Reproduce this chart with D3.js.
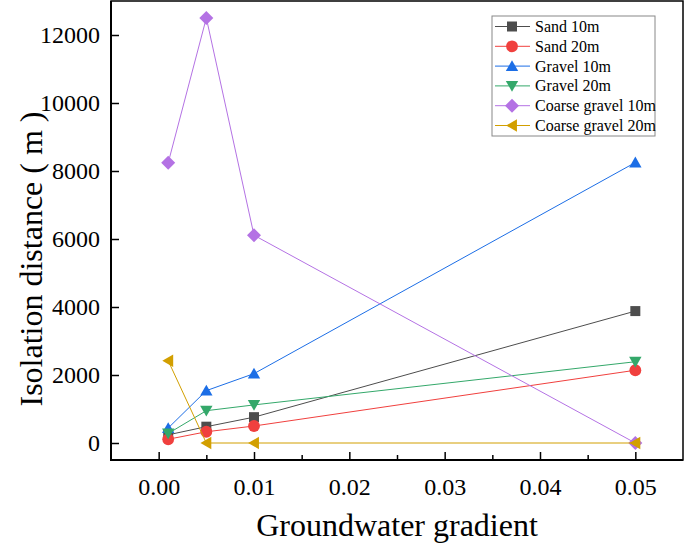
<!DOCTYPE html>
<html>
<head>
<meta charset="utf-8">
<script src="https://cdn.jsdelivr.net/npm/d3@7"></script>
<style>
  body { margin: 0; background: #fff; }
  svg { display: block; font-family: "Liberation Serif", "Times New Roman", serif; }
  .axis line { stroke: #000; stroke-width: 1.5; }
</style>
</head>
<body>
<div id="canvas"></div>
<script>
// data
var gradients = [0.001, 0.005, 0.01, 0.05];
var sand10 = [240, 480, 760, 3880];
var sand20 = [110, 330, 500, 2140];
var gravel10 = [440, 1540, 2040, 8250];
var gravel20 = [280, 950, 1120, 2390];
var coarse10 = [8240, 12500, 6110, 0];
var coarse20 = [2420, 0, 0, 0];

var seriesNames = ['Sand 10m', 'Sand 20m', 'Gravel 10m', 'Gravel 20m', 'Coarse gravel 10m', 'Coarse gravel 20m'];
var seriesColors = ['#4d4d4d', '#f0403e', '#1c6ee6', '#34a86a', '#b472e4', '#d29f00'];
var xTicks = [0, 0.01, 0.02, 0.03, 0.04, 0.05];
var xMinor = [0.005, 0.015, 0.025, 0.035, 0.045];
var yTicks = [0, 2000, 4000, 6000, 8000, 10000, 12000];

var serif = '"Liberation Serif", "Times New Roman", serif';
var W = 685, H = 546;
var m = {t:1, r:2, b:86, l:111};
var w = W - m.l - m.r,
    h = H - m.t - m.b;

// custom marker shapes
var triDown = { draw: function(ctx, s){ var r = Math.sqrt(s)*0.62;
  ctx.moveTo(-r, -r*0.8); ctx.lineTo(r, -r*0.8); ctx.lineTo(0, r*0.95); ctx.closePath(); } };
var triUp = { draw: function(ctx, s){ var r = Math.sqrt(s)*0.62;
  ctx.moveTo(-r, r*0.8); ctx.lineTo(r, r*0.8); ctx.lineTo(0, -r*0.95); ctx.closePath(); } };
var triLeft = { draw: function(ctx, s){ var r = Math.sqrt(s)*0.62;
  ctx.moveTo(r*0.8, -r); ctx.lineTo(r*0.8, r); ctx.lineTo(-r*0.95, 0); ctx.closePath(); } };
var diamond = { draw: function(ctx, s){ var r = Math.sqrt(s)*0.7;
  ctx.moveTo(0, -r); ctx.lineTo(r, 0); ctx.lineTo(0, r); ctx.lineTo(-r, 0); ctx.closePath(); } };
var shapes = [d3.symbolSquare, d3.symbolCircle, triUp, triDown, diamond, triLeft];
var sizes = [100, 110, 100, 100, 100, 100];

var svg = d3.select('#canvas').append('svg')
    .attr('width', W)
    .attr('height', H);
var plot = svg.append('g')
    .attr('transform', 'translate(' + m.l + ',' + m.t + ')');

var scaleX = d3.scaleLinear().domain([-0.005, 0.055]).range([0, w]);
var scaleY = d3.scaleLinear().domain([-500, 13000]).range([h, 0]);

function styleAxis(g){
    g.select('.domain').remove();
    g.attr('font-family', serif).attr('font-size', 24);
    g.selectAll('text').attr('fill', '#000');
}

// axes, ticks pointing inward
var axisX = d3.axisBottom(scaleX).tickValues(xTicks)
    .tickFormat(d3.format('.2f')).tickSizeInner(-8).tickSizeOuter(0).tickPadding(18);
plot.append('g').attr('class', 'axis axis-x')
    .attr('transform', 'translate(0,' + h + ')')
    .call(axisX)
    .call(styleAxis);

plot.append('g').attr('class', 'axis axis-x-minor')
    .attr('transform', 'translate(0,' + h + ')')
    .call(d3.axisBottom(scaleX).tickValues(xMinor).tickFormat('').tickSizeInner(-5).tickSizeOuter(0))
    .call(styleAxis);

var axisY = d3.axisLeft(scaleY).tickValues(yTicks)
    .tickFormat(d3.format('d')).tickSizeInner(-8).tickSizeOuter(0).tickPadding(11);
plot.append('g').attr('class', 'axis axis-y')
    .call(axisY)
    .call(styleAxis);

// frame
plot.append('rect')
    .attr('x', 0).attr('y', 0).attr('width', w).attr('height', h)
    .attr('fill', 'none').attr('stroke', '#000').attr('stroke-width', 1.5);
plot.append('path')
    .attr('d', 'M0,0V' + h + 'H' + w)
    .attr('fill', 'none').attr('stroke', '#000').attr('stroke-width', 2);

// series
var allSeries = [sand10, sand20, gravel10, gravel20, coarse10, coarse20];
var line = d3.line()
    .x(function(d){ return scaleX(d[0]); })
    .y(function(d){ return scaleY(d[1]); });

allSeries.forEach(function(vals, i){
    var pts = gradients.map(function(g, j){ return [g, vals[j]]; });
    var g = plot.append('g').attr('class', 'series');
    g.append('path')
        .attr('d', line(pts))
        .attr('fill', 'none')
        .attr('stroke', seriesColors[i])
        .attr('stroke-width', 1);
    g.selectAll('.pt').data(pts).enter().append('path')
        .attr('class', 'pt')
        .attr('transform', function(d){ return 'translate(' + scaleX(d[0]) + ',' + scaleY(d[1]) + ')'; })
        .attr('d', d3.symbol().type(shapes[i]).size(sizes[i]))
        .attr('fill', seriesColors[i]);
});

// legend
var lg = svg.append('g').attr('transform', 'translate(492,16)');
lg.append('rect')
    .attr('x', 0).attr('y', 0).attr('width', 163).attr('height', 120)
    .attr('fill', '#fff').attr('stroke', '#888').attr('stroke-width', 1);
seriesNames.forEach(function(name, i){
    var y = 10.5 + i * 19.8;
    lg.append('line')
        .attr('x1', 3).attr('x2', 38).attr('y1', y).attr('y2', y)
        .attr('stroke', seriesColors[i]).attr('stroke-width', 1);
    lg.append('path')
        .attr('transform', 'translate(20,' + y + ')')
        .attr('d', d3.symbol().type(shapes[i]).size(sizes[i]))
        .attr('fill', seriesColors[i]);
    lg.append('text')
        .attr('x', 43).attr('y', y + 5.5)
        .attr('font-size', 16)
        .text(name);
});

// axis titles
svg.append('text')
    .attr('x', m.l + w / 2).attr('y', 536)
    .attr('text-anchor', 'middle')
    .attr('font-size', 32)
    .text('Groundwater gradient');

svg.append('text')
    .attr('transform', 'translate(42,259) rotate(-90)')
    .attr('text-anchor', 'middle')
    .attr('font-size', 32)
    .text('Isolation distance ( m )');
</script>
</body>
</html>
